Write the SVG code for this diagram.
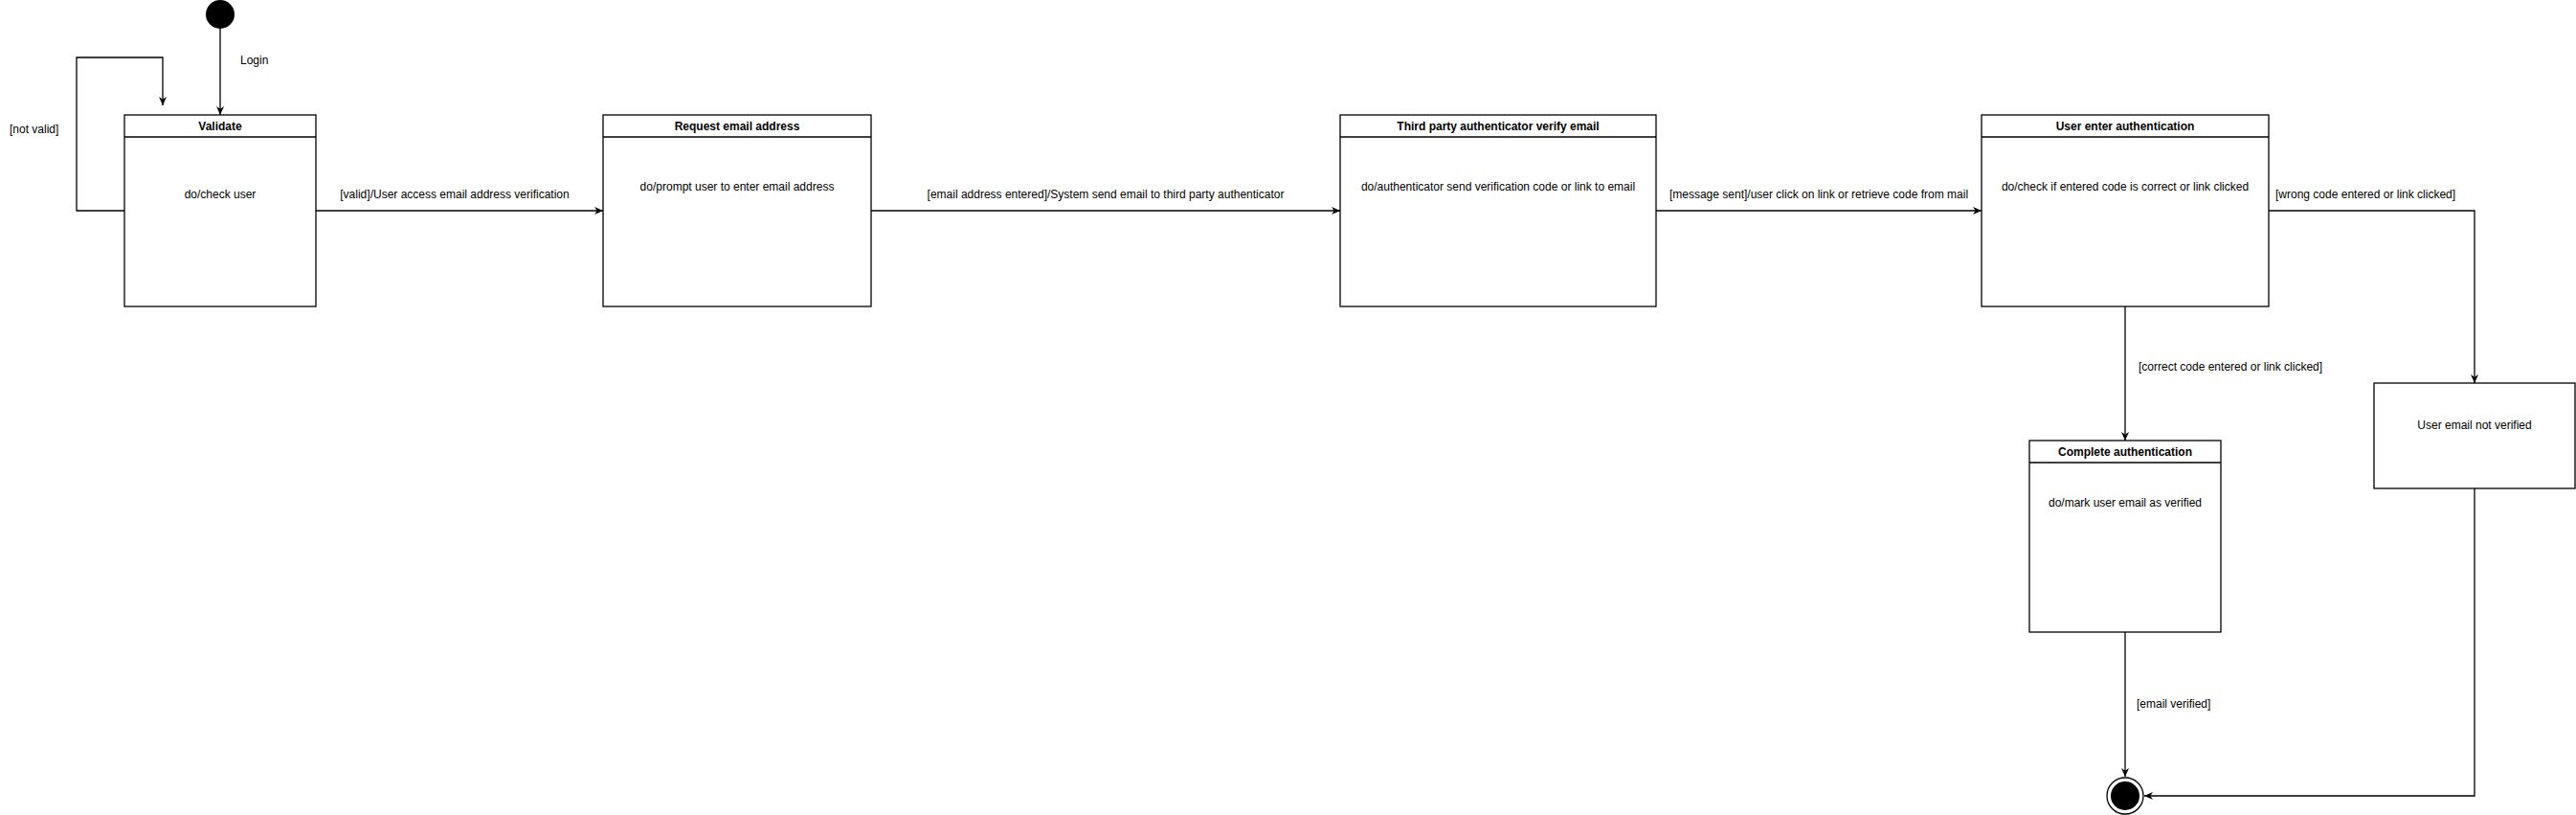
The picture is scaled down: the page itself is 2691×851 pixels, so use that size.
<svg xmlns="http://www.w3.org/2000/svg" width="2691" height="851" viewBox="0 0 2691 851">
<style>
  .box{fill:#fff;stroke:#000;stroke-width:1.3}
  .sep{stroke:#000;stroke-width:1.3}
  .t{font-family:"Liberation Sans",Arial,Helvetica,sans-serif;font-size:12px;fill:#000}
  .h{font-weight:bold;text-anchor:middle}
  .c{text-anchor:middle}
  .edge{fill:none;stroke:#000;stroke-width:1.3;marker-end:url(#arr)}
</style>
<defs>
  <marker id="arr" viewBox="0 0 10 10" refX="10" refY="5" markerWidth="9" markerHeight="9" markerUnits="userSpaceOnUse" orient="auto">
    <path d="M0,0.5 L10,5 L0,9.5 L3,5 Z" fill="#000"/>
  </marker>
</defs>
<rect width="2691" height="851" fill="#fff"/>

<g id="connectors">
  <path class="edge" d="M230,30 L230,120"/>
  <path class="edge" d="M130,220 L80,220 L80,60 L170,60 L170,110"/>
  <path class="edge" d="M330,220 L630,220"/>
  <path class="edge" d="M910,220 L1400,220"/>
  <path class="edge" d="M1730,220 L2070,220"/>
  <path class="edge" d="M2220,320 L2220,460"/>
  <path class="edge" d="M2370,220 L2585,220 L2585,400"/>
  <path class="edge" d="M2220,660 L2220,811"/>
  <path class="edge" d="M2585,510 L2585,831 L2240,831"/>
  <text class="t" x="251" y="67">Login</text>
  <text class="t" x="10" y="139">[not valid]</text>
  <text class="t c" x="475" y="207">[valid]/User access email address verification</text>
  <text class="t c" x="1155" y="207">[email address entered]/System send email to third party authenticator</text>
  <text class="t c" x="1900" y="207">[message sent]/user click on link or retrieve code from mail</text>
  <text class="t" x="2377" y="207">[wrong code entered or link clicked]</text>
  <text class="t" x="2234" y="387">[correct code entered or link clicked]</text>
  <text class="t" x="2232" y="739">[email verified]</text>
</g>

<g id="initial">
  <circle cx="230" cy="15" r="15" fill="#000"/>
</g>

<g id="validate">
  <rect class="box" x="130" y="120" width="200" height="200"/>
  <line class="sep" x1="130" y1="143" x2="330" y2="143"/>
  <text class="t h" x="230" y="136">Validate</text>
  <text class="t c" x="230" y="207">do/check user</text>
</g>

<g id="request">
  <rect class="box" x="630" y="120" width="280" height="200"/>
  <line class="sep" x1="630" y1="143" x2="910" y2="143"/>
  <text class="t h" x="770" y="136">Request email address</text>
  <text class="t c" x="770" y="199">do/prompt user to enter email address</text>
</g>

<g id="thirdparty">
  <rect class="box" x="1400" y="120" width="330" height="200"/>
  <line class="sep" x1="1400" y1="143" x2="1730" y2="143"/>
  <text class="t h" x="1565" y="136">Third party authenticator verify email</text>
  <text class="t c" x="1565" y="199">do/authenticator send verification code or link to email</text>
</g>

<g id="userenter">
  <rect class="box" x="2070" y="120" width="300" height="200"/>
  <line class="sep" x1="2070" y1="143" x2="2370" y2="143"/>
  <text class="t h" x="2220" y="136">User enter authentication</text>
  <text class="t c" x="2220" y="199">do/check if entered code is correct or link clicked</text>
</g>

<g id="complete">
  <rect class="box" x="2120" y="460" width="200" height="200"/>
  <line class="sep" x1="2120" y1="483" x2="2320" y2="483"/>
  <text class="t h" x="2220" y="476">Complete authentication</text>
  <text class="t c" x="2220" y="529">do/mark user email as verified</text>
</g>

<g id="notverified">
  <rect class="box" x="2480" y="400" width="210" height="110"/>
  <text class="t c" x="2585" y="448">User email not verified</text>
</g>

<g id="final">
  <circle cx="2220" cy="831" r="19" fill="#fff" stroke="#000" stroke-width="1.3"/>
  <circle cx="2220" cy="831" r="15" fill="#000"/>
</g>
</svg>
